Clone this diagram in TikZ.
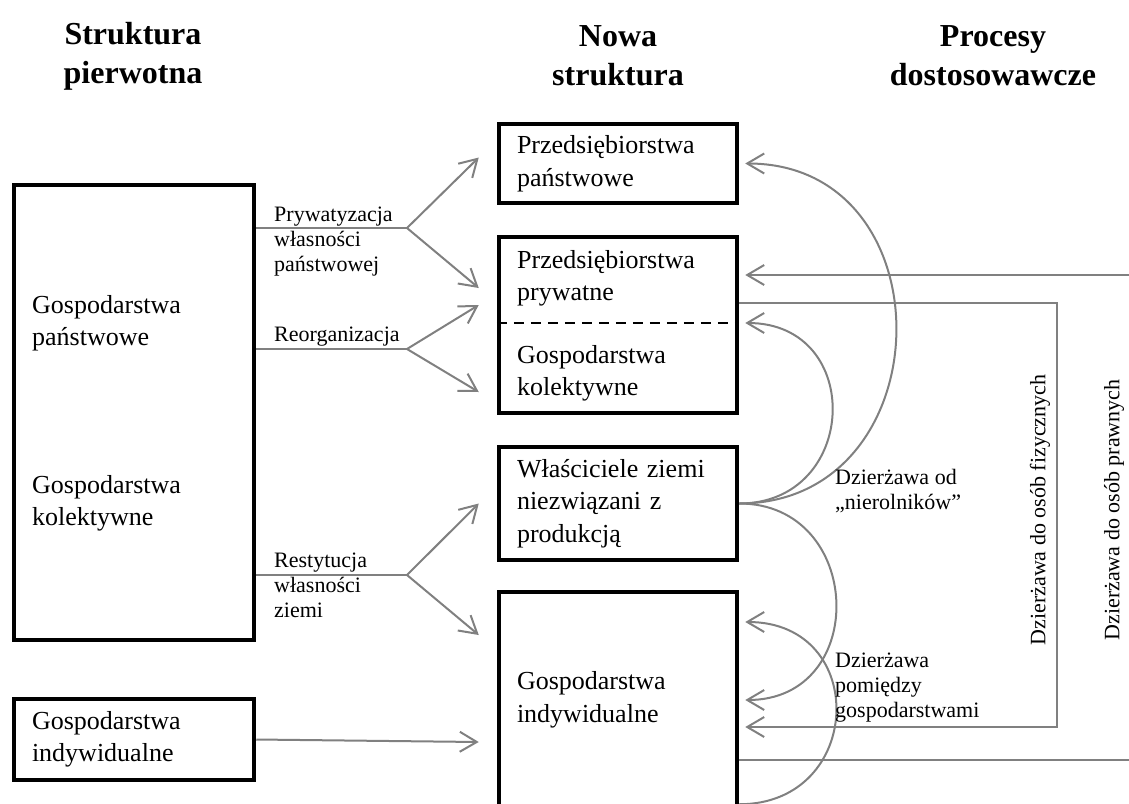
\documentclass[tikz,border=0pt]{standalone}
\usepackage{fontspec}
\setmainfont{Liberation Serif}
\usetikzlibrary{arrows.meta}

\definecolor{linegray}{RGB}{128,128,128}

\begin{document}
\begin{tikzpicture}[x=1pt,y=-1pt,
    box/.style={draw, line width=4.5pt, inner sep=0pt, align=left, font=\fontsize{26}{32.5}\selectfont},
    txt/.style={inner sep=0pt, anchor=north west, align=left, font=\fontsize{26}{32.5}\selectfont},
    head/.style={align=center, font=\fontsize{32}{39}\selectfont\bfseries},
    lbl/.style={inner sep=0pt, anchor=north west, align=left, font=\fontsize{22}{25}\selectfont},
    conn/.style={draw=linegray, line width=2pt},
    arr/.style={conn, -{Straight Barb[length=17pt,width=20pt]}}]
    \useasboundingbox (0,0) rectangle (1129,803);
    \clip (0,0) rectangle (1129,803);

    \node[head] (h1) at (133,56) {Struktura\\pierwotna};
    \node[head] (h2) at (618,56) {Nowa\\struktura};
    \node[head] (h3) at (993,56) {Procesy\\dostosowawcze};

    \node[box, minimum width=240, minimum height=455] (lbox) at (134,412.5) {};
    \node[txt] (gp) at (32,295) {Gospodarstwa\\państwowe};
    \node[txt] (gkl) at (32,475) {Gospodarstwa\\kolektywne};
    \node[box, minimum width=240, minimum height=81, text width=204] (lind) at (134,739.5) {Gospodarstwa\\indywidualne};

    \node[box, minimum width=238, minimum height=79, text width=202] (pp) at (618,163.5) {Przedsiębiorstwa\\państwowe};
    \node[box, minimum width=238, minimum height=176] (mix) at (618,325) {};
    \node[txt] (prz) at (517,250) {Przedsiębiorstwa\\prywatne};
    \node[txt] (gk) at (517,345) {Gospodarstwa\\kolektywne};
    \draw[line width=2.5pt, dash pattern=on 10pt off 7pt] ([yshift=2pt]mix.west) -- ([yshift=2pt]mix.east);
    \node[box, minimum width=238, minimum height=113, text width=202] (wz) at (618,503.5) {Właściciele ziemi\\niezwiązani z\\produkcją};
    \node[box, minimum width=238, minimum height=216, text width=202] (gi) at (618,700) {Gospodarstwa\\indywidualne};

    \coordinate (f1) at (407,228);
    \coordinate (f2) at (407,349);
    \coordinate (f3) at (407,575);
    \coordinate (pr1) at (1129,275);
    \coordinate (pr2) at (1129,760);
    \coordinate (fz) at (1057,727);

    \draw[conn] (lbox.east |- f1) -- (f1);
    \draw[arr] (f1) -- ([xshift=-18pt,yshift=6pt]pp.west);
    \draw[arr] (f1) -- ([xshift=-18pt,yshift=37pt]mix.west);
    \node[lbl] (lpr) at (274,207) {Prywatyzacja\\własności\\państwowej};

    \draw[conn] (lbox.east |- f2) -- (f2);
    \draw[arr] (f2) -- ([xshift=-18pt,yshift=20pt]mix.west);
    \draw[arr] (f2) -- ([xshift=-18pt,yshift=-67pt]mix.west);
    \node[lbl] (lre) at (274,327) {Reorganizacja};

    \draw[conn] (lbox.east |- f3) -- (f3);
    \draw[arr] (f3) -- ([xshift=-18pt]wz.west);
    \draw[arr] (f3) -- ([xshift=-18pt,yshift=65pt]gi.west);
    \node[lbl] (lrs) at (274,553) {Restytucja\\własności\\ziemi};

    \draw[arr] (lind.east) -- ([xshift=-18pt,yshift=-42pt]gi.west);

    \draw[arr] (wz.east) .. controls +(205,0) and +(205,0) .. ([xshift=6pt]pp.east);
    \draw[arr] (wz.east) .. controls +(120,0) and +(120,0) .. ([xshift=6pt,yshift=2pt]mix.east);
    \draw[arr] (wz.east) .. controls +(125,0) and +(125,0) .. ([xshift=6pt]gi.east);
    \draw[arr] ([yshift=6pt]gi.south east) .. controls +(125,0) and +(125,0) .. ([xshift=6pt,yshift=78pt]gi.east);
    \node[lbl] (lnr) at (835,469) {Dzierżawa od\\„nierolników”};
    \node[lbl] (lgg) at (835,653) {Dzierżawa\\pomiędzy\\gospodarstwami};

    \draw[arr] (pr1) -- ([xshift=6pt,yshift=50pt]mix.east);
    \draw[arr] ([yshift=22pt]mix.east) -| (fz) -- ([xshift=6pt,yshift=-27pt]gi.east);
    \draw[conn] ([yshift=-60pt]gi.east) -- (pr2);
    \node[lbl, rotate=90, anchor=center] (lfz) at (1040,510) {Dzierżawa do osób fizycznych};
    \node[lbl, rotate=90, anchor=center] (lpw) at (1114,510) {Dzierżawa do osób prawnych};
\end{tikzpicture}
\end{document}
